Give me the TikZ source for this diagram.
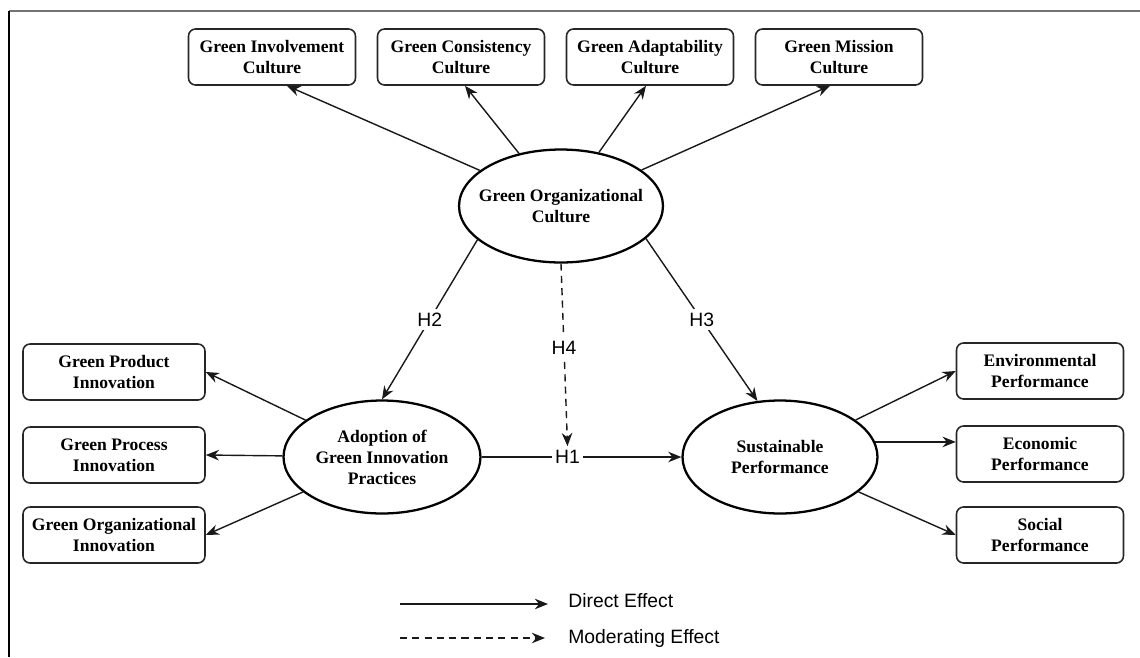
\documentclass[tikz,border=0pt]{standalone}
\usepackage{fontspec}
\setmainfont{Liberation Serif}
\setsansfont{Liberation Sans}
\usetikzlibrary{arrows.meta,shapes.geometric}

\begin{document}
\begin{tikzpicture}[x=0.02cm, y=-0.02cm,
  dim/.style={draw=black!85, line width=0.9pt, rounded corners=4pt, align=center, font=\bfseries, minimum width=3.34cm, minimum height=1.12cm, inner sep=1pt},
  construct/.style={ellipse, draw=black, line width=1.3pt, align=center, font=\bfseries, minimum width=4.08cm, minimum height=2.26cm, inner sep=0pt},
  effect/.style={-{Stealth[length=7.5pt,width=6pt]}, line width=0.8pt, draw=black!90},
  moderating/.style={effect, dash pattern=on 4pt off 3pt},
  hyp/.style={fill=white, font=\sffamily\fontsize{11}{13}\selectfont, inner sep=2pt},
  legtext/.style={anchor=west, font=\sffamily\fontsize{11}{13}\selectfont, inner sep=0pt}]
\useasboundingbox (0,0) rectangle (1140,657);
\draw[black!55, line width=1.1pt] (1140,11) -- (9,11);
\draw[black, line width=0.8pt] (9,11) -- (9,657);
\node[construct, inner xsep=-0.21cm] (goc) at (561,206) {Green Organizational\\Culture};
\node[construct, minimum width=3.94cm] (agip) at (382,457) {Adoption of\\Green Innovation\\Practices};
\node[construct, minimum width=3.9cm] (sp) at (780,457) {Sustainable\\Performance};
\node[dim] (inv) at (272,57) {Green Involvement\\Culture};
\node[dim] (con) at (461,57) {Green Consistency\\Culture};
\node[dim] (ada) at (650,57) {Green Adaptability\\Culture};
\node[dim] (mis) at (839,57) {Green Mission\\Culture};
\node[dim, minimum width=3.64cm] (prod) at (114,372) {Green Product\\Innovation};
\node[dim, minimum width=3.64cm] (proc) at (114,455) {Green Process\\Innovation};
\node[dim, minimum width=3.64cm] (orgi) at (114,535) {Green Organizational\\Innovation};
\node[dim] (env) at (1040,371) {Environmental\\Performance};
\node[dim] (eco) at (1040,454) {Economic\\Performance};
\node[dim] (soc) at (1040,535) {Social\\Performance};
\draw[effect] (goc) -- ([xshift=0.3cm]inv.south);
\draw[effect] (goc) -- ([xshift=0.08cm]con.south);
\draw[effect] (goc) -- ([xshift=-0.08cm]ada.south);
\draw[effect] (goc) -- ([xshift=-0.18cm]mis.south);
\draw[effect] (agip) -- (prod.east);
\draw[effect] (agip) -- (proc.east);
\draw[effect] (agip) -- (orgi.east);
\draw[effect] (sp) -- (env.west);
\draw[effect] (sp.9) -- (eco.west |- sp.9);
\draw[effect] (sp) -- (soc.west);
\draw[effect] (goc.202) -- node[hyp] {H2} (agip.north);
\draw[effect] (goc.-21) -- node[hyp] {H3} (sp.112);
\draw[effect] (agip) -- node[hyp, pos=0.43] (h1) {H1} (sp);
\draw[moderating] (goc.south) -- node[hyp, pos=0.46] {H4} (h1.north);
\coordinate (d1) at (400,604);
\coordinate (d2) at (400,638);
\node[legtext] (dtext) at (568,601) {Direct Effect};
\node[legtext] (mtext) at (568,638) {Moderating Effect};
\draw[effect] (d1) -- ([xshift=-0.4cm]dtext.west |- d1);
\draw[moderating] (d2) -- ([xshift=-0.46cm]mtext.west |- d2);
\end{tikzpicture}
\end{document}
